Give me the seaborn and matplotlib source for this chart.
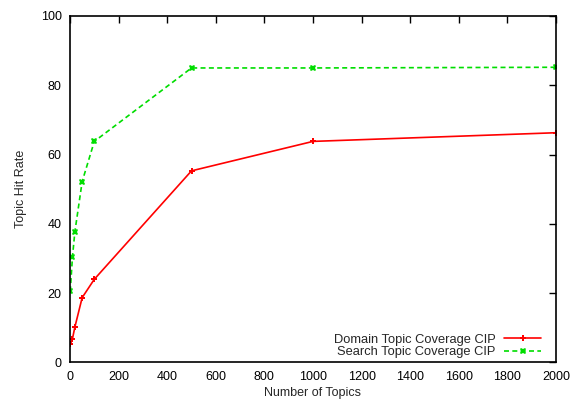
import pandas as pd
import matplotlib
matplotlib.use("Agg")
import matplotlib.pyplot as plt
import seaborn as sns

# values
topics = [1, 10, 20, 50, 100, 500, 1000, 2000]
domain_cov = [5.2, 6.8, 10.2, 18.7, 24.0, 55.3, 63.8, 66.3]
search_cov = [20.5, 30.4, 37.7, 52.2, 63.8, 85.0, 85.0, 85.2]

df = pd.concat([
    pd.DataFrame({"topics": topics, "rate": domain_cov, "series": "Domain Topic Coverage CIP"}),
    pd.DataFrame({"topics": topics, "rate": search_cov, "series": "Search Topic Coverage CIP"}),
])

sns.set_style("white")
plt.rcParams["font.family"] = ["Liberation Sans", "DejaVu Sans"]
plt.rcParams["font.size"] = 9

fig = plt.figure(figsize=(5.72, 4.0), dpi=100)
ax = fig.add_axes([0.1224, 0.094, 0.8496, 0.866])

sns.lineplot(data=df, x="topics", y="rate", hue="series", style="series",
             palette=["#ff0000", "#00dd00"], dashes=[(None, None), (3, 2)],
             markers=["P", "X"], markersize=5, linewidth=1.2,
             markeredgewidth=0, ax=ax)

ax.set_xlim(0, 2000)
ax.set_ylim(0, 100)
ax.set_xticks(range(0, 2001, 200))
ax.set_yticks(range(0, 101, 20))
ax.set_xlabel("Number of Topics", fontsize=9, labelpad=3)
ax.set_ylabel("Topic Hit Rate", fontsize=9, labelpad=10)
ax.tick_params(direction="in", length=5, width=1, top=True, right=True,
               labelsize=9, colors="black", pad=6)
for s in ax.spines.values():
    s.set_color("black")
    s.set_linewidth(1.2)

leg = ax.legend(loc="lower right", bbox_to_anchor=(0.97, 0.012), frameon=False,
                markerfirst=False, fontsize=9.3, handlelength=2.9,
                handletextpad=0.65, borderaxespad=0, borderpad=0,
                labelspacing=0.05)

fig.savefig("out.png", dpi=100)
